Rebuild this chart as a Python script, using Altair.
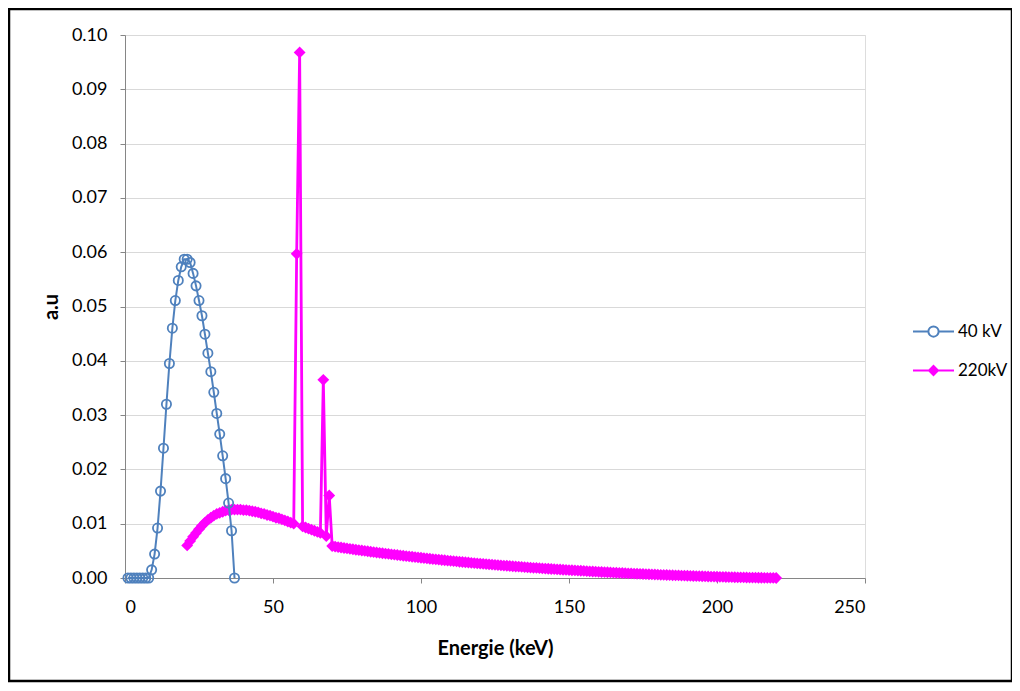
import altair as alt
import pandas as pd

series_names = ["40 kV", "220kV"]
series_colors = ["#4F81BD", "#FF00FF"]

# 40 kV spectrum (keV, a.u.)
energy_40 = list(range(1, 38))
values_40 = [0, 0, 0, 0, 0, 0, 0, 0,
             0.0015, 0.0044, 0.0092, 0.0160, 0.0239, 0.0320, 0.0395, 0.0460,
             0.0511, 0.0548, 0.0573, 0.0587, 0.0587, 0.0581, 0.0561, 0.0538,
             0.0511, 0.0483, 0.0449, 0.0414, 0.0380, 0.0342, 0.0303, 0.0265,
             0.0225, 0.0183, 0.0138, 0.0087, 0.0]

# 220 kV spectrum (keV, a.u.)
energy_220 = list(range(21, 221))
values_220 = [
    0.0060, 0.0068, 0.0076, 0.0083, 0.0090, 0.0096, 0.0102, 0.0107, 0.0111, 0.0115,  # 21-30
    0.0118, 0.0120, 0.0122, 0.0124, 0.0125, 0.0126, 0.0126, 0.0126, 0.0126, 0.0125,  # 31-40
    0.0125, 0.0124, 0.0123, 0.0122, 0.0121, 0.0119, 0.0118, 0.0116, 0.0115, 0.0113,  # 41-50
    0.0111, 0.0110, 0.0108, 0.0106, 0.0104, 0.0102, 0.0100, 0.0597, 0.0968, 0.0095,  # 51-60
    0.0093, 0.0091, 0.0089, 0.0087, 0.0085, 0.0083, 0.0365, 0.0077, 0.0152, 0.0059,  # 61-70
    0.00578, 0.00569, 0.00561, 0.00553, 0.00545, 0.00537, 0.00529, 0.00521, 0.00514, 0.00506,  # 71-80
    0.00499, 0.00492, 0.00484, 0.00477, 0.00470, 0.00463, 0.00456, 0.00449, 0.00443, 0.00436,  # 81-90
    0.00429, 0.00423, 0.00416, 0.00410, 0.00404, 0.00397, 0.00391, 0.00385, 0.00379, 0.00373,  # 91-100
    0.00367, 0.00361, 0.00355, 0.00349, 0.00344, 0.00338, 0.00332, 0.00327, 0.00321, 0.00316,  # 101-110
    0.00311, 0.00305, 0.00300, 0.00295, 0.00290, 0.00285, 0.00280, 0.00275, 0.00270, 0.00265,  # 111-120
    0.00261, 0.00256, 0.00251, 0.00247, 0.00242, 0.00238, 0.00233, 0.00229, 0.00225, 0.00221,  # 121-130
    0.00216, 0.00212, 0.00208, 0.00204, 0.00200, 0.00196, 0.00192, 0.00188, 0.00185, 0.00181,  # 131-140
    0.00177, 0.00174, 0.00170, 0.00166, 0.00163, 0.00159, 0.00156, 0.00152, 0.00149, 0.00146,  # 141-150
    0.00142, 0.00139, 0.00136, 0.00133, 0.00130, 0.00126, 0.00123, 0.00120, 0.00117, 0.00114,  # 151-160
    0.00111, 0.00108, 0.00106, 0.00103, 0.00100, 0.00097, 0.00094, 0.00092, 0.00089, 0.00086,  # 161-170
    0.00084, 0.00081, 0.00079, 0.00076, 0.00074, 0.00071, 0.00069, 0.00066, 0.00064, 0.00062,  # 171-180
    0.00059, 0.00057, 0.00055, 0.00053, 0.00051, 0.00049, 0.00047, 0.00045, 0.00043, 0.00041,  # 181-190
    0.00039, 0.00037, 0.00035, 0.00033, 0.00032, 0.00030, 0.00028, 0.00026, 0.00025, 0.00023,  # 191-200
    0.00022, 0.00020, 0.00019, 0.00017, 0.00016, 0.00014, 0.00013, 0.00012, 0.00010, 0.00009,  # 201-210
    0.00008, 0.00007, 0.00006, 0.00005, 0.00004, 0.00003, 0.00002, 0.00002, 0.00001, 0.00000,  # 211-220
]

x_ticks = [0, 50, 100, 150, 200, 250]
y_ticks = [0.00, 0.01, 0.02, 0.03, 0.04, 0.05, 0.06, 0.07, 0.08, 0.09, 0.10]

df40 = pd.DataFrame({"E": energy_40, "v": values_40, "series": series_names[0]})
df220 = pd.DataFrame({"E": energy_220, "v": values_220, "series": series_names[1]})
df_all = pd.concat([df40, df220], ignore_index=True)

FONT = "Lato"

x_enc = alt.X(
    "E:Q",
    scale=alt.Scale(domain=[0, 250], nice=False, zero=True),
    axis=alt.Axis(
        values=x_ticks, format="d", title="Energie (keV)", grid=False,
        labelFontSize=18, labelColor="#000000", labelFont=FONT, labelPadding=15,
        tickSize=5, tickColor="#868686", domainColor="#868686",
        titleFontSize=20, titleFont=FONT, titleFontWeight="bold", titleColor="#000000",
        titlePadding=22,
    ),
)
y_enc = alt.Y(
    "v:Q",
    scale=alt.Scale(domain=[0, 0.1], nice=False),
    axis=alt.Axis(
        values=y_ticks, format=".2f", title="a.u", grid=True, gridColor="#D9D9D9",
        labelFontSize=18, labelColor="#000000", labelFont=FONT, labelPadding=13,
        tickSize=5, tickColor="#868686", domainColor="#868686",
        titleFontSize=20, titleFont=FONT, titleFontWeight="bold", titleColor="#000000",
        titlePadding=10,
    ),
)

line220 = alt.Chart(df220).mark_line(color=series_colors[1], strokeWidth=2.8).encode(x=x_enc, y=y_enc)
pts220 = alt.Chart(df220).mark_point(
    shape="diamond", filled=True, color=series_colors[1], size=140, opacity=1
).encode(x=x_enc, y=y_enc)
line40 = alt.Chart(df40).mark_line(color=series_colors[0], strokeWidth=2).encode(x=x_enc, y=y_enc)
pts40 = alt.Chart(df40).mark_point(
    shape="circle", filled=False, color=series_colors[0], size=85, strokeWidth=1.8, opacity=1
).encode(x=x_enc, y=y_enc)

circle_line = ("M-1,0L-0.25,0M0.25,0L1,0"
               "M-0.25,0A0.25,0.25,0,1,1,0.25,0A0.25,0.25,0,1,1,-0.25,0Z")
diamond_line = "M-1,0L-0.22,0M0.22,0L1,0M0,-0.22L0.22,0L0,0.22L-0.22,0Z"

leg = alt.Legend(
    title=None, orient="none", legendX=787, legendY=275, padding=0,
    symbolSize=1681, symbolStrokeWidth=2, symbolOpacity=1, rowPadding=8,
    labelFontSize=17, labelFont=FONT, labelColor="#000000", labelOffset=3,
)
legend_layer = alt.Chart(df_all).mark_point(opacity=0).encode(
    x=x_enc, y=y_enc,
    stroke=alt.Stroke("series:N", scale=alt.Scale(domain=series_names, range=series_colors), legend=leg),
    fill=alt.Fill("series:N", scale=alt.Scale(domain=series_names, range=["#FFFFFF", series_colors[1]]), legend=leg),
    shape=alt.Shape("series:N", scale=alt.Scale(domain=series_names, range=[circle_line, diamond_line]), legend=leg),
)

border = alt.Chart(alt.Data(values=[{"a": 1}])).mark_rect(
    fill=None, stroke="#000000", strokeWidth=2.5, clip=False
).encode(
    x=alt.value(-116), x2=alt.value(887), y=alt.value(-26), y2=alt.value(646)
)

chart = alt.layer(line220, pts220, line40, pts40, legend_layer, border).properties(
    width=740, height=543,
    autosize=alt.AutoSizeParams(type="none"),
    padding={"left": 117, "top": 27, "right": 147, "bottom": 105},
).configure_view(stroke=None).configure(font=FONT)

chart.save("out.html", embed_options={"renderer": "svg", "actions": False})
